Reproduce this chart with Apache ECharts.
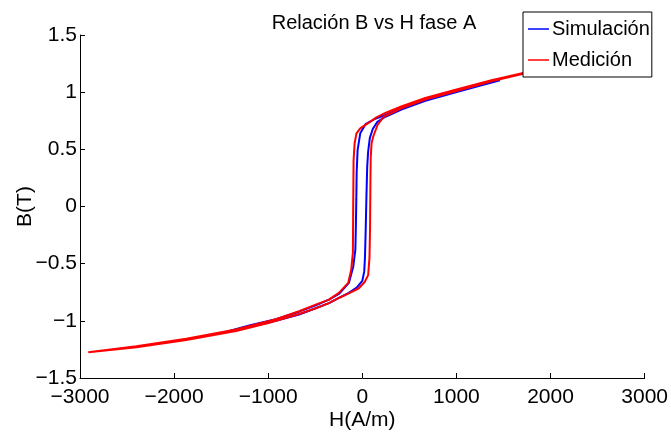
<!DOCTYPE html>
<html>
<head>
<meta charset="utf-8">
<script src="https://cdn.jsdelivr.net/npm/echarts@6/dist/echarts.min.js"></script>
<style>
html,body{margin:0;padding:0;background:#fff;}
#c{width:671px;height:439px;}
</style>
</head>
<body>
<div id="c"></div>
<script>
// Simulación: descending branch then ascending branch (H in A/m, B in T)
var simH = [1462, 1021, 669, 421, 245, 130, 34, -22, -50, -60, -64, -68, -74, -96, -143, -249, -354, -495, -672, -918, -1201, -1462,
            -1201, -918, -672, -495, -354, -249, -143, -60, 0, 20, 28, 36, 44, 52, 62, 80, 112, 160, 245, 421, 669, 1021, 1462];
var simB = [1.112, 1.012, 0.935, 0.862, 0.80, 0.765, 0.72, 0.64, 0.495, 0.30, 0.06, -0.15, -0.378, -0.524, -0.668, -0.765, -0.815, -0.865, -0.92, -0.985, -1.04, -1.10,
            -1.055, -1.0, -0.945, -0.89, -0.845, -0.80, -0.755, -0.71, -0.65, -0.57, -0.45, -0.2, 0.1, 0.35, 0.48, 0.6, 0.68, 0.74, 0.785, 0.85, 0.925, 1.005, 1.105];
// Medición
var medH = [2912, 2500, 2100, 1709, 1373, 1021, 669, 421, 245, 150, 69, -22, -62, -82, -93, -97, -100, -118, -150, -249, -354, -495, -672, -918, -1342, -1871, -2400, -2912,
            -2400, -1871, -1342, -989, -672, -495, -354, -249, -143, -37, 25, 62, 76, 82, 86, 89, 98, 115, 162, 227, 421, 669, 1021, 1373, 1709, 2100, 2500, 2912];
var medB = [1.28, 1.245, 1.21, 1.168, 1.105, 1.028, 0.95, 0.878, 0.818, 0.78, 0.733, 0.684, 0.64, 0.553, 0.40, 0.0, -0.40, -0.552, -0.668, -0.756, -0.814, -0.858, -0.916, -0.985, -1.076, -1.157, -1.222, -1.274,
            -1.231, -1.168, -1.09, -1.018, -0.94, -0.89, -0.845, -0.80, -0.76, -0.715, -0.66, -0.60, -0.45, -0.2, 0.2, 0.42, 0.55, 0.61, 0.713, 0.785, 0.86, 0.935, 1.015, 1.095, 1.16, 1.205, 1.24, 1.275];

var xTicks = [-3000, -2000, -1000, 0, 1000, 2000, 3000];
var yTicks = [-1.5, -1, -0.5, 0, 0.5, 1, 1.5];
var seriesNames = ['Simulación', 'Medición'];
var titleText = 'Relación B vs H fase A';
var xName = 'H(A/m)';
var yName = 'B(T)';

function zip(a, b) { var r = []; for (var i = 0; i < a.length; i++) r.push([a[i], b[i]]); return r; }
function fmt(v) { return v < 0 ? '\u2212' + String(-v) : String(v); }

var FONT = "'Liberation Sans', Arial, sans-serif";
var FS = 21;
var chart = echarts.init(document.getElementById('c'), null, {renderer: 'canvas'});
var axisCommon = {
  axisLine: {show: true, onZero: false, lineStyle: {color: '#000', width: 1}},
  axisTick: {show: true, inside: true, length: 5, lineStyle: {color: '#000'}},
  splitLine: {show: false},
  nameMoveOverlap: false,
  nameTextStyle: {color: '#000', fontSize: FS, fontFamily: FONT}
};
chart.setOption({
  animation: false,
  backgroundColor: '#fff',
  title: {
    text: titleText, left: 374, top: 13, textAlign: 'center', padding: 0,
    textStyle: {color: '#000', fontWeight: 'normal', fontSize: 20, fontFamily: FONT}
  },
  legend: {
    data: seriesNames, orient: 'vertical', left: 523, top: 12,
    padding: [5, 2, 5, 5], itemGap: 7, itemWidth: 21, itemHeight: 1.5, icon: 'rect',
    backgroundColor: '#fff', borderColor: '#000', borderWidth: 1, borderRadius: 0,
    selectedMode: false, z: 20,
    textStyle: {color: '#000', fontSize: 20, fontFamily: FONT, lineHeight: 24, padding: [0, 0, 0, -2]}
  },
  grid: {left: 80, right: 24, top: 35, bottom: 61, containLabel: false},
  xAxis: Object.assign({}, axisCommon, {
    type: 'value', min: xTicks[0], max: xTicks[xTicks.length - 1], interval: 1000,
    name: xName, nameLocation: 'middle', nameGap: 32,
    axisLabel: {color: '#000', fontSize: FS, fontFamily: FONT, margin: 9, formatter: fmt}
  }),
  yAxis: Object.assign({}, axisCommon, {
    type: 'value', min: yTicks[0], max: yTicks[yTicks.length - 1], interval: 0.5,
    name: yName, nameLocation: 'middle', nameGap: 44, nameRotate: 90,
    axisLabel: {color: '#000', fontSize: FS, fontFamily: FONT, margin: 3, formatter: fmt}
  }),
  series: [
    {name: seriesNames[0], type: 'line', data: zip(simH, simB), showSymbol: false, symbol: 'none',
     lineStyle: {color: '#0000ff', width: 2}, itemStyle: {color: '#0000ff'}, z: 2},
    {name: seriesNames[1], type: 'line', data: zip(medH, medB), showSymbol: false, symbol: 'none',
     lineStyle: {color: '#ff0000', width: 2}, itemStyle: {color: '#ff0000'}, z: 3}
  ]
});
</script>
</body>
</html>
